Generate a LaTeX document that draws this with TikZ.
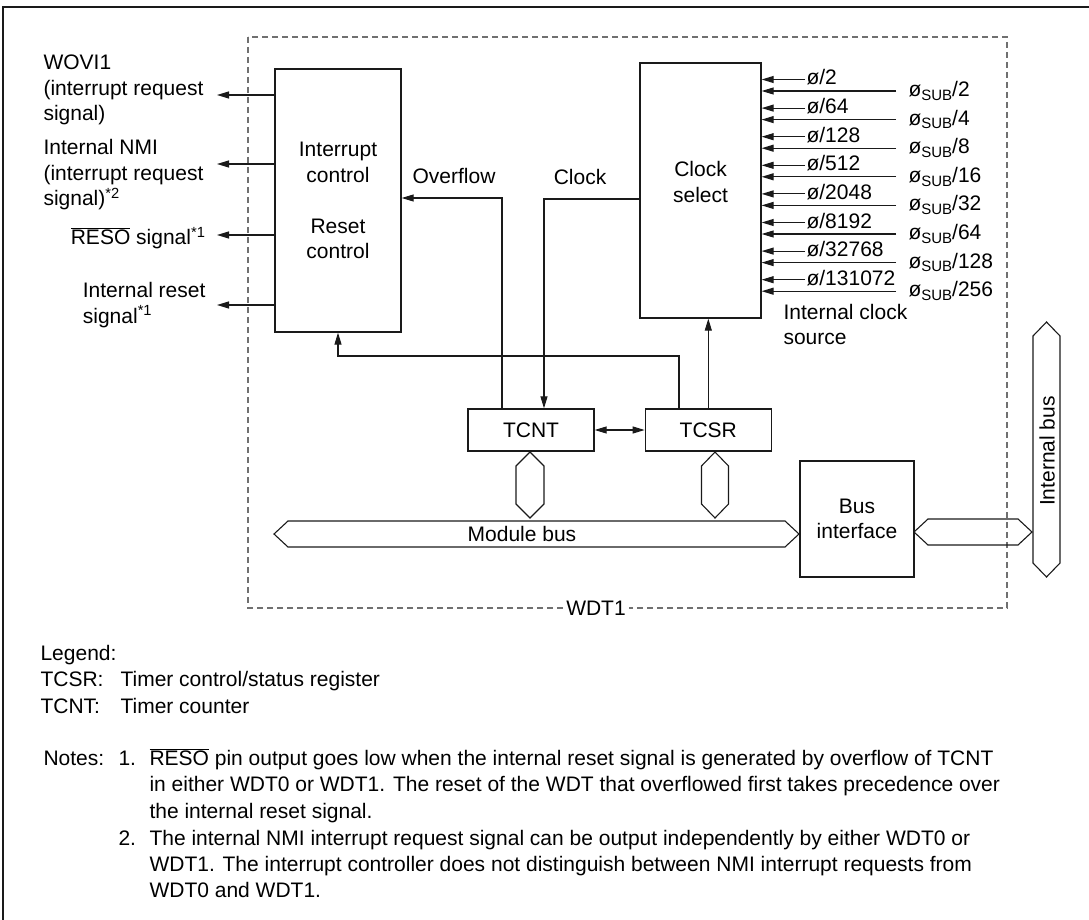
\documentclass[tikz,border=0pt]{standalone}
\usepackage{fontspec}
\setmainfont{Liberation Sans}
\usetikzlibrary{arrows.meta,positioning,calc}
\definecolor{dsh}{HTML}{707070}
\definecolor{ln}{HTML}{1A1A1A}

% small lowered text for the SUB index
\newcommand{\subsc}[1]{\raisebox{-0.35ex}{\fontsize{15}{15}\selectfont #1}}
% bus shapes: vertical (x, y top, y bottom, half width) and horizontal (x left, x right, y, half height)
\newcommand{\vbus}[4]{\draw (#1,#2)--(#1+#4,#2+14)--(#1+#4,#3-14)--(#1,#3)--(#1-#4,#3-14)--(#1-#4,#2+14)--cycle;}
\newcommand{\hbus}[4]{\draw (#1,#3)--(#1+14,#3-#4)--(#2-14,#3-#4)--(#2,#3)--(#2-14,#3+#4)--(#1+14,#3+#4)--cycle;}

\begin{document}
\begin{tikzpicture}[x=1pt,y=-1pt,line width=1.1pt,draw=ln,
  font=\fontsize{21}{25.5}\selectfont,
  blk/.style={draw=ln,line width=1.3pt,inner sep=0,align=center},
  txt/.style={inner sep=0,anchor=base west},
  arr/.style={-{Triangle[length=12pt,width=7pt]}},
  dbl/.style={{Triangle[length=12pt,width=7pt]}-{Triangle[length=12pt,width=7pt]}}]
\useasboundingbox (0,0) rectangle (1089,920);
\draw[line width=1.3pt] (3,920)--(3,7)--(1089,7);
% module frame
\draw[dsh,dash pattern=on 6pt off 4pt] (248,37) rectangle (1007,608);
\node[fill=white,inner sep=3pt] (wdt) at (596,608) {WDT1};
% blocks
\node[blk,minimum width=126pt,minimum height=263pt] (ctl) at (338,200.5) {Interrupt\\control\\[25.5pt]Reset\\control};
\node[blk,minimum width=121pt,minimum height=255pt] (csel) at (700.5,190.5) {};
\node[align=center,inner sep=0] (cselt) at ([yshift=8.5pt]csel.center) {Clock\\select};
\node[blk,minimum width=126pt,minimum height=42pt] (tcnt) at (531,430) {TCNT};
\node[blk,minimum width=126pt,minimum height=42pt,right=50pt of tcnt] (tcsr) {TCSR};
\node[blk,minimum width=114pt,minimum height=116pt] (busif) at (857,519) {Bus\\interface};
% outputs
\foreach \y/\n in {95/o1,164/o2,235/o3,305/o4}
  \coordinate (\n) at (217,\y);
\foreach \n in {o1,o2,o3,o4}
  \draw[arr](ctl.west |- \n)--(\n);
\node[anchor=east,align=left,inner sep=0] (wovi) at (204,90) {WOVI1\\(interrupt request\\signal)};
\node[anchor=east,align=left,inner sep=0] (nmi) at (204,175) {Internal NMI\\(interrupt request\\signal)\textsuperscript{*2}};
\node[anchor=east,inner sep=0] (reso) at (206,238) {$\overline{\mbox{RESO}}$ signal\textsuperscript{*1}};
\node[anchor=east,align=left,inner sep=0] (irst) at (206,305) {Internal reset\\signal\textsuperscript{*1}};
% clock sources
\foreach \i/\a/\b in {0/2/2,1/64/4,2/128/8,3/512/16,4/2048/32,5/8192/64,6/32768/128,7/131072/256}{
  \pgfmathsetmacro\yy{79.5+28.6*\i}
  \coordinate (p\i) at (805,\yy);
  \coordinate (s\i) at (896,\yy+11.5);
  \draw[arr](p\i)--(csel.east |- p\i);
  \draw[arr](s\i)--(csel.east |- s\i);
  \node[txt] at ($(p\i)+(1,5.5)$) {ø/\a};
  \node[txt] at ($(s\i)+(12,5.5)$) {ø\subsc{SUB}/\b};
}
\node[anchor=west,align=left,inner sep=0] (src) at (783,324.5) {Internal clock\\source};
% internal connections
\coordinate (ovf) at (502,198);
\draw[arr](tcnt.north -| ovf)--(ovf)--(ctl.east |- ovf);
\node[inner sep=0,anchor=base] at (454,184) {Overflow};
\coordinate (clk) at (544,199);
\draw[arr](csel.west |- clk)--(clk)--(tcnt.north -| clk);
\node[inner sep=0,anchor=base] at (580,185) {Clock};
\coordinate (rst) at (679,356);
\draw[arr](tcsr.north -| rst)--(rst)-|(ctl.south);
\draw[arr](tcsr.north)--(tcsr.north |- csel.south);
\draw[dbl](tcnt)--(tcsr);
% buses
\vbus{530}{452}{518}{14}
\vbus{715}{452}{518}{13.5}
\hbus{274}{799}{534}{13}
\node (mbus) at (522,534) {Module bus};
\hbus{914}{1032}{532}{13}
\vbus{1046.5}{322}{577}{13.5}
\node[rotate=90] (ibus) at (1047,451) {Internal bus};
% legend and notes
\node[txt] at (40,660) {Legend:};
\node[txt] at (40,686) {TCSR:};
\node[txt] at (120,686) {Timer control/status register};
\node[txt] at (40,713) {TCNT:};
\node[txt] at (120,713) {Timer counter};
\node[txt] at (43,765) {Notes:};
\node[txt] at (118,765) {1.};
\node[txt] at (118,845) {2.};
\foreach \y/\t in {765/{$\overline{\mbox{RESO}}$ pin output goes low when the internal reset signal is generated by overflow of TCNT},
  791/{in either WDT0 or WDT1. The reset of the WDT that overflowed first takes precedence over},
  818/{the internal reset signal.},
  845/{The internal NMI interrupt request signal can be output independently by either WDT0 or},
  871/{WDT1. The interrupt controller does not distinguish between NMI interrupt requests from},
  897/{WDT0 and WDT1.}}
  \node[txt] at (149,\y) {\t};
\end{tikzpicture}
\end{document}
